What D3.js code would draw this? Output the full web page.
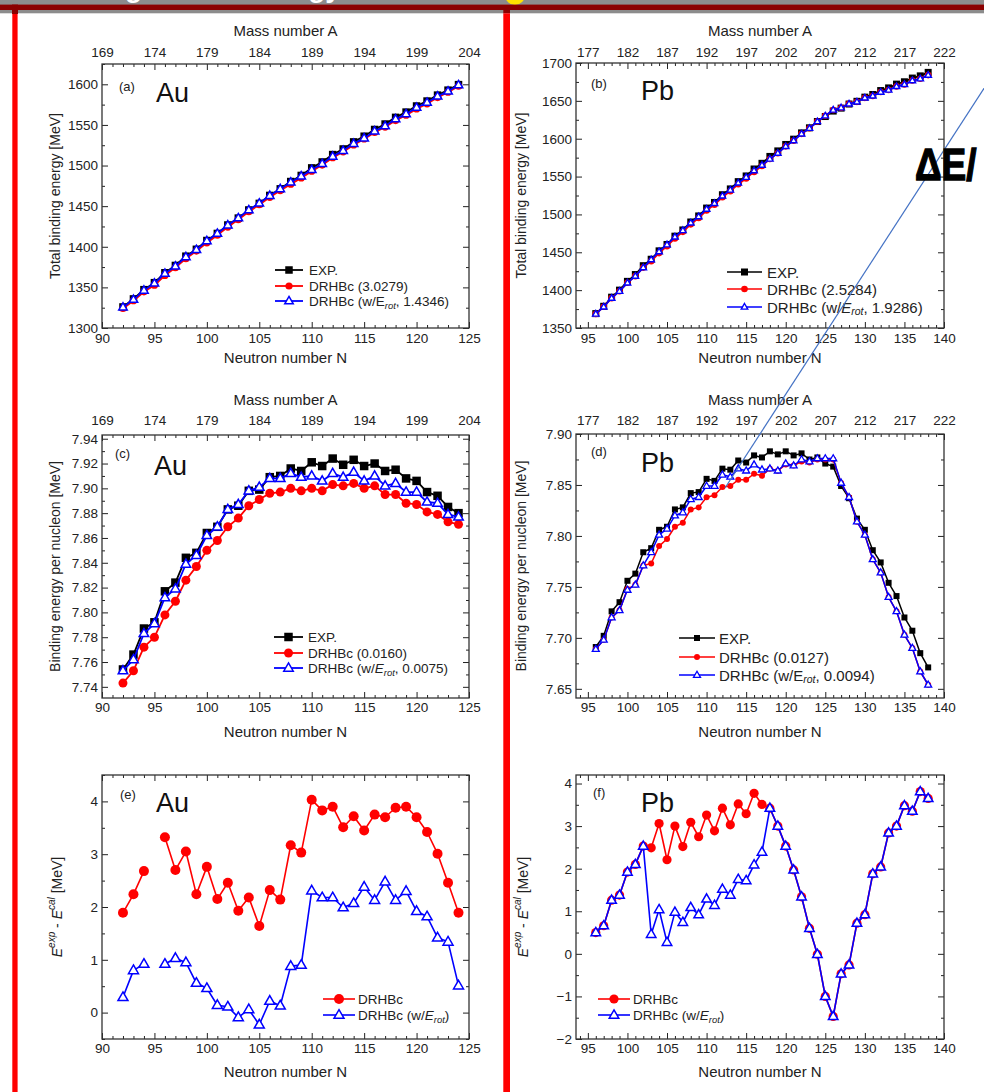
<!DOCTYPE html>
<html>
<head>
<meta charset="utf-8">
<script src="https://cdn.jsdelivr.net/npm/d3@7"></script>
<style>
  body { margin: 0; background: #fff; }
  svg { display: block; font-family: "Liberation Sans", Arial, Helvetica, sans-serif; }
</style>
</head>
<body>
<svg id="fig" width="984" height="1092"></svg>
<script>
// ---------- Neutron numbers ----------
const auN = [92,93,94,95,96,97,98,99,100,101,102,103,104,105,106,107,108,109,110,111,112,113,114,115,116,117,118,119,120,121,122,123,124];
const pbN = [96,97,98,99,100,101,102,103,104,105,106,107,108,109,110,111,112,113,114,115,116,117,118,119,120,121,122,123,124,125,126,127,128,129,130,131,132,133,134,135,136,137,138];

// ---------- Au: total binding energy [MeV] ----------
const auTotalExp = [1325.9,1335.8,1347.2,1355.8,1368.0,1377.0,1388.4,1396.9,1407.7,1416.4,1426.8,1435.3,1445.3,1453.4,1463.2,1471.3,1480.3,1487.8,1497.1,1504.4,1513.5,1520.4,1529.1,1536.1,1544.4,1551.1,1559.3,1565.8,1573.3,1579.4,1586.7,1592.8,1599.6];
const auTotalDrhbc = [1324.0,1333.6,1344.5,1352.6,1364.7,1374.3,1385.4,1394.7,1404.9,1414.3,1424.3,1433.4,1443.1,1451.8,1460.9,1469.2,1477.1,1484.8,1493.1,1500.6,1509.6,1516.9,1525.4,1532.7,1540.7,1547.4,1555.4,1561.9,1569.6,1576.0,1583.7,1590.3,1597.7];
const auTotalRot = [1325.6,1335.0,1346.3,1355.0,1367.1,1376.0,1387.5,1396.3,1407.2,1416.3,1426.7,1435.4,1445.2,1453.6,1463.0,1471.2,1479.4,1486.9,1494.8,1502.2,1511.3,1518.4,1527.0,1533.7,1542.3,1548.6,1557.2,1563.5,1571.4,1577.6,1585.3,1591.5,1599.1];

// ---------- Pb: total binding energy [MeV] ----------
const pbTotalExp = [1369.0,1378.7,1390.7,1400.0,1411.6,1420.6,1432.3,1440.8,1451.9,1460.3,1471.3,1479.5,1490.0,1498.0,1508.4,1515.8,1526.0,1533.7,1543.3,1550.8,1560.0,1567.5,1576.6,1583.9,1592.4,1599.4,1607.7,1614.4,1622.7,1629.3,1636.5,1640.4,1645.8,1649.4,1654.9,1658.4,1663.6,1667.1,1672.1,1675.2,1680.1,1683.0,1687.6];
const pbTotalDrhbc = [1368.5,1378.0,1389.4,1398.6,1409.7,1418.5,1429.8,1438.3,1448.8,1458.1,1468.3,1477.0,1486.9,1495.3,1505.1,1512.9,1522.6,1530.7,1539.8,1547.5,1556.2,1564.0,1573.2,1580.9,1589.9,1597.4,1606.4,1613.8,1622.7,1630.3,1638.0,1640.9,1646.1,1648.7,1654.0,1656.5,1661.6,1664.3,1669.1,1671.7,1676.8,1679.2,1684.0];
const pbTotalRot = [1368.5,1378.0,1389.4,1398.6,1409.7,1418.5,1429.8,1440.3,1450.9,1460.0,1470.3,1478.8,1488.9,1497.1,1507.1,1514.7,1524.5,1532.3,1541.6,1549.1,1557.9,1565.1,1573.2,1580.9,1589.9,1597.4,1606.4,1613.8,1622.7,1630.3,1638.0,1640.9,1646.1,1648.7,1654.0,1656.5,1661.6,1664.3,1669.1,1671.7,1676.8,1679.2,1684.0];

// ---------- Au: binding energy per nucleon [MeV] ----------
const auPerExp = [7.754,7.766,7.787,7.792,7.817,7.824,7.844,7.848,7.864,7.869,7.883,7.886,7.898,7.899,7.909,7.910,7.916,7.914,7.921,7.918,7.924,7.919,7.923,7.918,7.920,7.914,7.915,7.908,7.906,7.897,7.894,7.885,7.880];
const auPerDrhbc = [7.743,7.753,7.772,7.780,7.798,7.809,7.826,7.837,7.850,7.858,7.869,7.876,7.886,7.891,7.896,7.897,7.900,7.898,7.900,7.898,7.903,7.902,7.904,7.900,7.902,7.895,7.895,7.888,7.887,7.881,7.879,7.873,7.871];
const auPerRot = [7.753,7.762,7.783,7.791,7.812,7.819,7.839,7.846,7.862,7.869,7.883,7.887,7.898,7.901,7.908,7.908,7.912,7.909,7.910,7.906,7.912,7.909,7.913,7.906,7.910,7.902,7.904,7.897,7.897,7.889,7.888,7.879,7.877];

// ---------- Pb: binding energy per nucleon [MeV] ----------
const pbPerExp = [7.691,7.702,7.726,7.735,7.756,7.763,7.784,7.788,7.806,7.809,7.826,7.828,7.842,7.843,7.856,7.854,7.866,7.865,7.874,7.872,7.879,7.877,7.883,7.880,7.883,7.879,7.881,7.875,7.877,7.871,7.868,7.849,7.837,7.817,7.806,7.786,7.774,7.754,7.741,7.720,7.707,7.685,7.671];
const pbPerDrhbc = [7.689,7.698,7.720,7.727,7.748,7.752,7.771,7.773,7.790,7.797,7.809,7.813,7.826,7.828,7.838,7.840,7.848,7.849,7.855,7.855,7.861,7.859,7.866,7.864,7.870,7.869,7.873,7.872,7.875,7.875,7.875,7.852,7.838,7.814,7.801,7.777,7.764,7.740,7.726,7.703,7.690,7.667,7.654];
const pbPerRot = [7.689,7.698,7.720,7.727,7.747,7.752,7.771,7.784,7.801,7.807,7.820,7.823,7.836,7.838,7.849,7.849,7.860,7.858,7.866,7.864,7.870,7.865,7.866,7.864,7.871,7.869,7.875,7.873,7.876,7.876,7.876,7.852,7.838,7.814,7.801,7.777,7.764,7.740,7.726,7.703,7.690,7.667,7.654];

// ---------- E^exp - E^cal [MeV] ----------
const auDiffDrhbc = [1.89,2.24,2.68,null,3.32,2.70,3.05,2.24,2.76,2.15,2.46,1.93,2.18,1.64,2.32,2.14,3.17,3.03,4.03,3.83,3.90,3.51,3.72,3.45,3.75,3.70,3.88,3.90,3.70,3.42,3.01,2.46,1.89];
const auDiffRot = [0.29,0.80,0.92,null,0.92,1.03,0.95,0.56,0.46,0.14,0.11,-0.09,0.06,-0.23,0.22,0.13,0.88,0.90,2.31,2.18,2.18,1.99,2.07,2.38,2.13,2.48,2.13,2.30,1.92,1.82,1.42,1.34,0.51];
const pbDiffDrhbc = [0.50,0.66,1.26,1.38,1.92,2.10,2.53,2.49,3.06,2.21,3.00,2.52,3.09,2.75,3.26,2.89,3.42,3.03,3.52,3.29,3.77,3.51,3.42,3.00,2.53,1.97,1.34,0.60,-0.01,-1.00,-1.47,-0.47,-0.26,0.72,0.92,1.88,2.04,2.84,3.00,3.48,3.35,3.81,3.65];
const pbDiffRot = [0.50,0.66,1.26,1.38,1.92,2.10,2.53,0.46,1.04,0.27,0.98,0.74,1.09,0.92,1.29,1.14,1.52,1.38,1.75,1.72,2.09,2.39,3.42,3.00,2.53,1.97,1.34,0.60,-0.01,-1.00,-1.47,-0.47,-0.26,0.72,0.92,1.88,2.04,2.84,3.00,3.48,3.35,3.81,3.65];

// ---------- Tick values / labels ----------
const auNTicks = [90,95,100,105,110,115,120,125];
const pbNTicks = [95,100,105,110,115,120,125,130,135,140];
const auMassTicks = [169,174,179,184,189,194,199,204];
const pbMassTicks = [177,182,187,192,197,202,207,212,217,222];
const auTotalTicks = [1300,1350,1400,1450,1500,1550,1600];
const pbTotalTicks = [1350,1400,1450,1500,1550,1600,1650,1700];
const auPerTicks = [7.74,7.76,7.78,7.80,7.82,7.84,7.86,7.88,7.90,7.92,7.94];
const pbPerTicks = [7.65,7.70,7.75,7.80,7.85,7.90];
const auDiffTicks = [0,1,2,3,4];
const pbDiffTicks = [-2,-1,0,1,2,3,4];

// ---------- Legend texts ----------
const legendExp = "EXP.";
const rmsTotalAu = ["3.0279", "1.4346"];
const rmsTotalPb = ["2.5284", "1.9286"];
const rmsPerAu = ["0.0160", "0.0075"];
const rmsPerPb = ["0.0127", "0.0094"];

const COL = { exp: "#000000", drhbc: "#ff0000", rot: "#0000ff" };
const FONT = '"Liberation Sans", Arial, Helvetica, sans-serif';

const svg = d3.select("#fig");

// ---------- slide frame behind the figure ----------
svg.append("rect").attr("x", 0).attr("y", 0).attr("width", 984).attr("height", 13.3).attr("fill", "#8c8c8c");
const titleBits = [["Binding", 38], ["energy", 249]];
titleBits.forEach(([t, x]) => {
  svg.append("text").attr("x", x).attr("y", -3).attr("fill", "#fff")
    .attr("font-size", 28).attr("font-weight", "bold").text(t);
});
svg.append("circle").attr("cx", 515).attr("cy", -5).attr("r", 10).attr("fill", "#ffe400");
svg.append("rect").attr("x", 0).attr("y", 4.6).attr("width", 984).attr("height", 5.4).attr("fill", "#8b0000");
svg.append("rect").attr("x", 12).attr("y", 4.6).attr("width", 6).attr("height", 9.4).attr("fill", "#8b0000");
svg.append("rect").attr("x", 12.3).attr("y", 14).attr("width", 5.3).attr("height", 1078).attr("fill", "#ff0000");
svg.append("rect").attr("x", 503.3).attr("y", 10).attr("width", 6.7).attr("height", 3.3).attr("fill", "#8b0000");
svg.append("rect").attr("x", 503.3).attr("y", 13.3).attr("width", 6.7).attr("height", 1079).attr("fill", "#ff0000");

// ---------- marker shapes ----------
function triPath(s) {
  const h = s * Math.sqrt(3) / 2;
  return `M0,${-h * 0.62}L${s / 2},${h * 0.38}L${-s / 2},${h * 0.38}Z`;
}
function drawMarker(g, kind, cx, cy, m) {
  if (kind === "exp") {
    g.append("rect").attr("x", cx - m.sq / 2).attr("y", cy - m.sq / 2)
      .attr("width", m.sq).attr("height", m.sq).attr("fill", COL.exp);
  } else if (kind === "drhbc") {
    g.append("circle").attr("cx", cx).attr("cy", cy).attr("r", m.circ).attr("fill", COL.drhbc);
  } else {
    g.append("path").attr("d", triPath(m.tri)).attr("transform", `translate(${cx},${cy})`)
      .attr("fill", "#fff").attr("stroke", COL.rot).attr("stroke-width", m.triLw);
  }
}

// ---------- one panel ----------
function drawPanel(p) {
  const g = svg.append("g");
  const x = d3.scaleLinear().domain(p.xDomain).range([p.left, p.right]);
  const y = d3.scaleLinear().domain(p.yDomain).range([p.bottom, p.top]);
  const xA = d3.scaleLinear().domain([p.xDomain[0] + p.Z, p.xDomain[1] + p.Z]).range([p.left, p.right]);

  const xMinor = d3.range(Math.ceil(p.xDomain[0]), p.xDomain[1] + 0.001, 1).filter(v => !p.xTicks.includes(v));
  const aMinor = xMinor.map(v => v + p.Z);
  const yMinor = d3.range(p.yTicks[0] - p.yMinorStep, p.yDomain[1] + 1e-9, p.yMinorStep)
    .filter(v => v >= p.yDomain[0] - 1e-9)
    .filter(v => !p.yTicks.some(t => Math.abs(t - v) < 1e-9));

  const styleAxis = sel => {
    sel.select(".domain").remove();
    sel.selectAll(".tick line").attr("stroke", "#222").attr("stroke-width", 1);
    sel.selectAll(".tick text").attr("fill", "#222").attr("font-size", 13.5).attr("font-family", FONT);
  };

  // bottom axis (N)
  g.append("g").attr("transform", `translate(0,${p.bottom})`)
    .call(d3.axisBottom(x).tickValues(p.xTicks).tickSize(-6).tickPadding(p.xPad).tickFormat(d3.format("d"))).call(styleAxis);
  g.append("g").attr("transform", `translate(0,${p.bottom})`)
    .call(d3.axisBottom(x).tickValues(xMinor).tickSize(-3).tickFormat("")).call(styleAxis);
  // top axis (A)
  g.append("g").attr("transform", `translate(0,${p.top})`)
    .call(d3.axisTop(xA).tickValues(p.massTicks).tickSize(-6).tickPadding(p.topPad)
      .tickFormat(p.showMass ? d3.format("d") : "")).call(styleAxis);
  g.append("g").attr("transform", `translate(0,${p.top})`)
    .call(d3.axisTop(xA).tickValues(aMinor).tickSize(-3).tickFormat("")).call(styleAxis);
  // left axis
  g.append("g").attr("transform", `translate(${p.left},0)`)
    .call(d3.axisLeft(y).tickValues(p.yTicks).tickSize(-6).tickPadding(4).tickFormat(d3.format(p.yFormat))).call(styleAxis);
  g.append("g").attr("transform", `translate(${p.left},0)`)
    .call(d3.axisLeft(y).tickValues(yMinor).tickSize(-3).tickFormat("")).call(styleAxis);
  // right axis
  g.append("g").attr("transform", `translate(${p.right},0)`)
    .call(d3.axisRight(y).tickValues(p.yTicks).tickSize(-6).tickFormat("")).call(styleAxis);
  g.append("g").attr("transform", `translate(${p.right},0)`)
    .call(d3.axisRight(y).tickValues(yMinor).tickSize(-3).tickFormat("")).call(styleAxis);

  // frame
  g.append("rect").attr("x", p.left).attr("y", p.top)
    .attr("width", p.right - p.left).attr("height", p.bottom - p.top)
    .attr("fill", "none").attr("stroke", "#333").attr("stroke-width", 1.3);

  // axis titles
  g.append("text").attr("x", (p.left + p.right) / 2).attr("y", p.xTitleY)
    .attr("text-anchor", "middle").attr("font-size", 15).attr("fill", "#222").text("Neutron number N");
  if (p.showMass) {
    g.append("text").attr("x", (p.left + p.right) / 2).attr("y", p.massTitleY)
      .attr("text-anchor", "middle").attr("font-size", 15).attr("fill", "#222").text("Mass number A");
  }
  const yt = g.append("text")
    .attr("transform", `translate(${p.yTitleX},${(p.top + p.bottom) / 2}) rotate(-90)`)
    .attr("text-anchor", "middle").attr("dominant-baseline", "central")
    .attr("font-size", 14).attr("fill", "#222");
  if (p.yTitle === "diff") {
    yt.append("tspan").attr("font-style", "italic").text("E");
    yt.append("tspan").attr("font-style", "italic").attr("font-size", 10).attr("dy", -6).text("exp");
    yt.append("tspan").attr("dy", 6).text(" - ");
    yt.append("tspan").attr("font-style", "italic").text("E");
    yt.append("tspan").attr("font-style", "italic").attr("font-size", 10).attr("dy", -6).text("cal");
    yt.append("tspan").attr("dy", 6).text(" [MeV]");
  } else {
    yt.text(p.yTitle);
  }

  // panel tags
  g.append("text").attr("x", p.tag[0]).attr("y", p.tag[1]).attr("font-size", 13).attr("fill", "#222").text(p.tagText);
  g.append("text").attr("x", p.elem[0]).attr("y", p.elem[1]).attr("font-size", 27).attr("fill", "#111").text(p.elemText);

  // series
  p.series.forEach(s => {
    const pts = p.n.map((n, i) => ({ n, v: s.values[i] }));
    const line = d3.line().defined(d => d.v != null).x(d => x(d.n)).y(d => y(d.v));
    g.append("path").datum(pts).attr("d", line).attr("fill", "none")
      .attr("stroke", COL[s.kind]).attr("stroke-width", p.m.lw).attr("stroke-linejoin", "round");
    const mg = g.append("g");
    pts.filter(d => d.v != null).forEach(d => drawMarker(mg, s.kind, x(d.n), y(d.v), p.m));
  });

  // legend
  const L = p.legend;
  p.series.forEach((s, i) => {
    const yy = L.rows[i];
    g.append("line").attr("x1", L.x).attr("x2", L.x + L.len).attr("y1", yy).attr("y2", yy)
      .attr("stroke", COL[s.kind]).attr("stroke-width", p.m.lw);
    drawMarker(g, s.kind, L.x + L.len / 2, yy, p.m);
    const t = g.append("text").attr("x", L.x + L.len + L.gap).attr("y", yy)
      .attr("dominant-baseline", "central").attr("font-size", L.fs).attr("fill", "#222");
    if (s.kind === "exp") {
      t.text(legendExp);
    } else if (s.kind === "drhbc") {
      t.text(s.rms ? `DRHBc (${s.rms})` : "DRHBc");
    } else {
      t.append("tspan").text("DRHBc (w/");
      t.append("tspan").attr("font-style", L.italicE ? "italic" : "normal").text("E");
      t.append("tspan").attr("font-style", "italic").attr("font-size", L.fs * 0.7).attr("dy", 4).text("rot");
      t.append("tspan").attr("dy", -4).text(s.rms ? `, ${s.rms})` : ")");
    }
  });
}

const panels = [
  { tagText: "(a)", elemText: "Au", tag: [119, 91], elem: [156, 102],
    left: 102, right: 469, top: 64, bottom: 328, xDomain: [90, 125], yDomain: [1300, 1625], Z: 79,
    xTicks: auNTicks, massTicks: auMassTicks, showMass: true, yTicks: auTotalTicks, yMinorStep: 25, yFormat: "d",
    xPad: 5, topPad: 7, xTitleY: 363, massTitleY: 36, yTitleX: 55, yTitle: "Total binding energy [MeV]",
    n: auN, m: { sq: 7.5, circ: 3.6, tri: 8.5, triLw: 1.5, lw: 1.8 },
    series: [{ kind: "exp", values: auTotalExp }, { kind: "drhbc", values: auTotalDrhbc, rms: rmsTotalAu[0] }, { kind: "rot", values: auTotalRot, rms: rmsTotalAu[1] }],
    legend: { x: 275, len: 28, gap: 6, rows: [270, 286, 301], fs: 13.5, italicE: false } },
  { tagText: "(b)", elemText: "Pb", tag: [591, 88], elem: [641, 100],
    left: 576, right: 944, top: 63, bottom: 328, xDomain: [93.5, 140], yDomain: [1350, 1700], Z: 82,
    xTicks: pbNTicks, massTicks: pbMassTicks, showMass: true, yTicks: pbTotalTicks, yMinorStep: 25, yFormat: "d",
    xPad: 5, topPad: 6, xTitleY: 363, massTitleY: 36, yTitleX: 521, yTitle: "Total binding energy [MeV]",
    n: pbN, m: { sq: 7, circ: 3.3, tri: 6.5, triLw: 1.4, lw: 1.7 },
    series: [{ kind: "exp", values: pbTotalExp }, { kind: "drhbc", values: pbTotalDrhbc, rms: rmsTotalPb[0] }, { kind: "rot", values: pbTotalRot, rms: rmsTotalPb[1] }],
    legend: { x: 727, len: 35, gap: 5, rows: [272, 289, 307], fs: 15, italicE: true } },
  { tagText: "(c)", elemText: "Au", tag: [115, 458], elem: [154, 475],
    left: 102, right: 469, top: 435, bottom: 698, xDomain: [90, 125], yDomain: [7.731, 7.943], Z: 79,
    xTicks: auNTicks, massTicks: auMassTicks, showMass: true, yTicks: auPerTicks, yMinorStep: 0.01, yFormat: ".2f",
    xPad: 4, topPad: 10, xTitleY: 737, massTitleY: 405, yTitleX: 55, yTitle: "Binding energy per nucleon [MeV]",
    n: auN, m: { sq: 8.5, circ: 4.5, tri: 9.5, triLw: 1.5, lw: 1.8 },
    series: [{ kind: "exp", values: auPerExp }, { kind: "drhbc", values: auPerDrhbc, rms: rmsPerAu[0] }, { kind: "rot", values: auPerRot, rms: rmsPerAu[1] }],
    legend: { x: 274, len: 29, gap: 5, rows: [637, 653, 668], fs: 13.5, italicE: true } },
  { tagText: "(d)", elemText: "Pb", tag: [591, 456], elem: [641, 472],
    left: 576, right: 944, top: 434, bottom: 698, xDomain: [93.5, 140], yDomain: [7.641, 7.90], Z: 82,
    xTicks: pbNTicks, massTicks: pbMassTicks, showMass: true, yTicks: pbPerTicks, yMinorStep: 0.025, yFormat: ".2f",
    xPad: 4, topPad: 9, xTitleY: 737, massTitleY: 405, yTitleX: 521, yTitle: "Binding energy per nucleon [MeV]",
    n: pbN, m: { sq: 6, circ: 3, tri: 7, triLw: 1.3, lw: 1.5 },
    series: [{ kind: "exp", values: pbPerExp }, { kind: "drhbc", values: pbPerDrhbc, rms: rmsPerPb[0] }, { kind: "rot", values: pbPerRot, rms: rmsPerPb[1] }],
    legend: { x: 679, len: 36, gap: 4, rows: [638, 657, 675], fs: 15, italicE: false } },
  { tagText: "(e)", elemText: "Au", tag: [120, 799], elem: [156, 812],
    left: 102, right: 469, top: 775, bottom: 1039, xDomain: [90, 125], yDomain: [-0.5, 4.5], Z: 79,
    xTicks: auNTicks, massTicks: auMassTicks, showMass: false, yTicks: auDiffTicks, yMinorStep: 0.5, yFormat: "d",
    xPad: 4, topPad: 6, xTitleY: 1077, massTitleY: 0, yTitleX: 57, yTitle: "diff",
    n: auN, m: { sq: 8, circ: 5, tri: 10, triLw: 1.5, lw: 1.6 },
    series: [{ kind: "drhbc", values: auDiffDrhbc }, { kind: "rot", values: auDiffRot }],
    legend: { x: 323, len: 32, gap: 3, rows: [999, 1015], fs: 13.5, italicE: true } },
  { tagText: "(f)", elemText: "Pb", tag: [593, 797], elem: [641, 812],
    left: 576, right: 944, top: 775, bottom: 1039, xDomain: [93.5, 140], yDomain: [-2, 4.2], Z: 82,
    xTicks: pbNTicks, massTicks: pbMassTicks, showMass: false, yTicks: pbDiffTicks, yMinorStep: 0.5, yFormat: "d",
    xPad: 4, topPad: 6, xTitleY: 1077, massTitleY: 0, yTitleX: 523, yTitle: "diff",
    n: pbN, m: { sq: 8, circ: 4.6, tri: 9.5, triLw: 1.5, lw: 1.6 },
    series: [{ kind: "drhbc", values: pbDiffDrhbc }, { kind: "rot", values: pbDiffRot }],
    legend: { x: 598, len: 32, gap: 3, rows: [999, 1015], fs: 13.5, italicE: true } }
];

panels.forEach(drawPanel);

// ---------- callout over the Pb panels ----------
svg.append("line").attr("x1", 992).attr("y1", 76).attr("x2", 725).attr("y2", 488)
  .attr("stroke", "#4472c4").attr("stroke-width", 1.2);
svg.append("text").attr("transform", "translate(915,180) scale(0.86,1.05)")
  .attr("font-size", 43).attr("font-weight", "bold")
  .attr("fill", "#000").attr("stroke", "#000").attr("stroke-width", 1.3).text("ΔE/");
</script>
</body>
</html>
